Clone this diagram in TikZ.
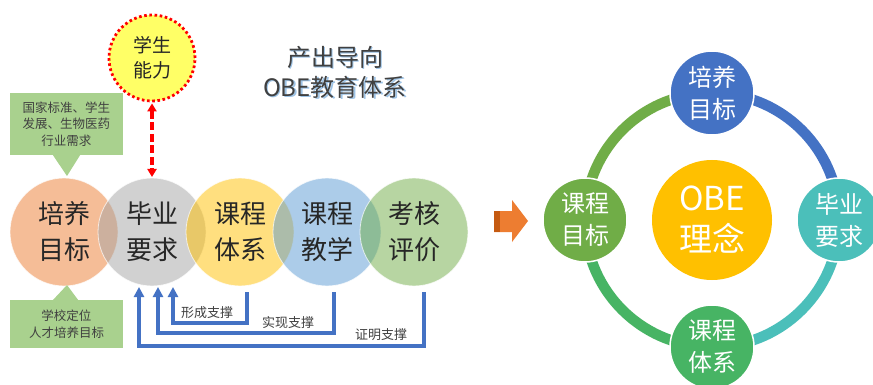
\documentclass[tikz,border=0pt]{standalone}
\usepackage{fontspec}
\setmainfont{Noto Sans CJK SC}
\usetikzlibrary{arrows.meta}
\definecolor{cOrange}{HTML}{ED7D31}
\definecolor{cGray}{HTML}{A5A5A5}
\definecolor{cYellow}{HTML}{FFC000}
\definecolor{cBlue}{HTML}{5B9BD5}
\definecolor{cGreen}{HTML}{70AD47}
\definecolor{txtDark}{HTML}{262626}
\definecolor{txtGray}{HTML}{404040}
\definecolor{shadowBlue}{HTML}{9DC3E6}
\definecolor{abilYellow}{HTML}{FFFF66}
\definecolor{callGreen}{HTML}{A9D18E}
\definecolor{arrowBlue}{HTML}{4472C4}
\definecolor{arrowOrange}{HTML}{ED7D31}
\definecolor{arrowOrangeD}{HTML}{C55A11}
\definecolor{ringBlue}{HTML}{4472C4}
\definecolor{ringTeal}{HTML}{4BBFBA}
\definecolor{ringGreenB}{HTML}{47B464}
\definecolor{ringGreenA}{HTML}{70AD47}
\definecolor{obeGold}{HTML}{FFC000}
\begin{document}
\begin{tikzpicture}[x=1pt,y=-1pt,
  bigc/.style={circle, inner sep=0pt, outer sep=0pt, minimum size=108pt,
    fill opacity=0.5, text opacity=1, draw=white, draw opacity=0.7, line width=0.8pt,
    font=\fontsize{26}{36}\selectfont, align=center, text=txtDark},
  callbox/.style={rectangle, fill=callGreen, inner sep=0pt, outer sep=0pt,
    minimum width=113pt, align=center, text=txtGray,
    font=\fontsize{12.5}{16.5}\selectfont},
  supportarrow/.style={draw=arrowBlue, line width=3.2pt, line join=miter,
    -{Triangle[width=10pt,length=10pt]}},
  supportlabel/.style={inner sep=0pt, text=txtGray, font=\fontsize{13}{13}\selectfont},
  ringnode/.style={circle, inner sep=0pt, outer sep=0pt, minimum size=84pt,
    draw=white, line width=1.5pt, text=white, align=center,
    font=\fontsize{24}{32}\selectfont},
  ringarc/.style={line width=10.5pt},
  titletext/.style={align=center, inner sep=0pt, font=\fontsize{24}{30}\selectfont}
]
\useasboundingbox (0,0) rectangle (873,385);
\fill[white] (0,0) rectangle (873,385);

% ---------- left: chain of circles ----------
\node[bigc, fill=cOrange] (c1) at (64,232) {培养\\目标};
\node[bigc, fill=cGray]   (c2) at (152,232) {毕业\\要求};
\node[bigc, fill=cYellow] (c3) at (240,232) {课程\\体系};
\node[bigc, fill=cBlue]   (c4) at (327,232) {课程\\教学};
\node[bigc, fill=cGreen]  (c5) at (414,232) {考核\\评价};

% ---------- student ability ----------
\node[circle, minimum size=86pt, inner sep=0pt, fill=abilYellow, draw=red,
  line width=2.8pt, dash pattern=on 2.6pt off 2.6pt, text=txtDark, align=center,
  font=\fontsize{19}{25}\selectfont] (abil) at (152,58) {学生\\能力};
\draw[red, line width=3.6pt, dash pattern=on 8pt off 3.5pt,
  {Triangle[width=9pt,length=8pt]}-{Triangle[width=9pt,length=8pt]}]
  ([yshift=-1pt]abil.south) -- ([yshift=1pt]c2.north);

% ---------- title ----------
\node[titletext, text=shadowBlue] (titleshadow) at (336.5,73.5) {产出导向\\OBE教育体系};
\node[titletext, text=txtGray] (title) at (335,72) {产出导向\\OBE教育体系};

% ---------- callouts ----------
\node[callbox, minimum height=62pt] (need) at (66.5,124) {国家标准、学生\\发展、生物医药\\行业需求};
\fill[callGreen] ([xshift=-14pt,yshift=0.5pt]need.south) -- ([xshift=3pt,yshift=2pt]c1.north)
  -- ([xshift=14pt,yshift=0.5pt]need.south) -- cycle;
\node[callbox, minimum height=48pt] (goal) at (66.5,324) {学校定位\\人才培养目标};
\fill[callGreen] ([xshift=-14pt,yshift=-0.5pt]goal.north) -- ([xshift=3pt,yshift=1pt]c1.south)
  -- ([xshift=12pt,yshift=-0.5pt]goal.north) -- cycle;

% ---------- support arrows ----------
\draw[supportarrow] ([xshift=7pt,yshift=-6pt]c3.south) -- ++(0,31) -| ([xshift=21pt,yshift=-1pt]c2.south);
\draw[supportarrow] ([xshift=7pt,yshift=-6pt]c4.south) -- ++(0,41) -| ([xshift=6pt,yshift=-1pt]c2.south);
\draw[supportarrow] ([xshift=10pt,yshift=-6pt]c5.south) -- ++(0,54) -| ([xshift=-13pt,yshift=-1pt]c2.south);
\node[supportlabel] (lab1) at (207,313) {形成支撑};
\node[supportlabel] (lab2) at (288,323) {实现支撑};
\node[supportlabel] (lab3) at (381,335) {证明支撑};

% ---------- orange arrow ----------
\fill[arrowOrange] (494,211) -- (512,211) -- (512,200) -- (528,221) -- (512,242)
  -- (512,232) -- (494,232) -- cycle;
\fill[arrowOrangeD] (494,211) rectangle (500,232);

% ---------- right: OBE cycle ----------
\draw[ringarc, ringBlue]   (712,93)  arc[start angle=-90, end angle=0,   radius=127];
\draw[ringarc, ringTeal]   (839,220) arc[start angle=0,   end angle=90,  radius=127];
\draw[ringarc, ringGreenB] (712,347) arc[start angle=90,  end angle=180, radius=127];
\draw[ringarc, ringGreenA] (585,220) arc[start angle=180, end angle=270, radius=127];

\node[circle, inner sep=0pt, minimum size=120pt, fill=obeGold, text=white, align=center,
  font=\fontsize{33}{41}\selectfont] (obe) at (712,220) {OBE\\理念};
\node[ringnode, fill=ringBlue]   (r1) at (712,93)  {培养\\目标};
\node[ringnode, fill=ringTeal]   (r2) at (839,220) {毕业\\要求};
\node[ringnode, fill=ringGreenB] (r3) at (712,347) {课程\\体系};
\node[ringnode, fill=ringGreenA] (r4) at (585,220) {课程\\目标};
\end{tikzpicture}
\end{document}
